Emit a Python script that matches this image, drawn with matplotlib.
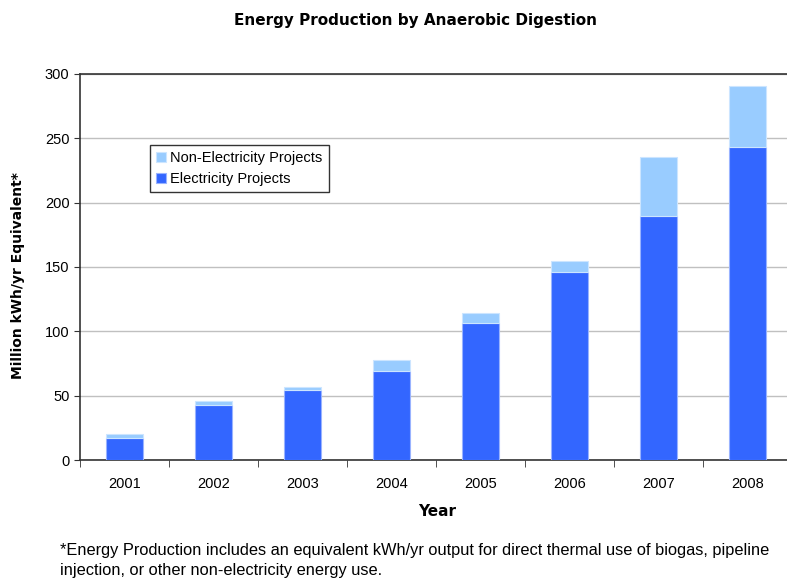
import matplotlib
matplotlib.use('Agg')
import matplotlib.pyplot as plt
import numpy as np

plt.rcParams['font.family'] = ['Liberation Sans', 'DejaVu Sans']

years = ['2001', '2002', '2003', '2004', '2005', '2006', '2007', '2008']
electricity = [17.3, 43, 54.4, 69.4, 106.7, 145.8, 189.3, 243.2]
non_electricity = [2.7, 2.6, 2.6, 8.1, 7.3, 8.6, 45.9, 47.2]

fig = plt.figure(figsize=(7.87, 5.82), dpi=100)
ax = fig.add_axes([80 / 787, 1 - 460 / 582, 712 / 787, 386 / 582])

x = np.arange(len(years))
ax.bar(x, electricity, width=0.42, color='#3366FF', edgecolor='#99B3FF',
       linewidth=0.8, label='Electricity Projects', zorder=3)
ax.bar(x, non_electricity, width=0.42, bottom=electricity, color='#99CCFF',
       edgecolor='#CCE5FF', linewidth=0.8, label='Non-Electricity Projects', zorder=3)

ax.set_xlim(-0.5, len(years) - 0.5)
ax.set_ylim(0, 300)
ax.set_yticks(range(0, 301, 50))
ax.set_xticks(x)
ax.set_xticklabels(years, fontsize=10.5)
ax.set_xticks(np.arange(-0.5, len(years), 1), minor=True)
ax.tick_params(axis='x', which='major', length=0, pad=12)
ax.tick_params(axis='x', which='minor', length=5, direction='out', color='#333333')
ax.tick_params(axis='y', labelsize=10.5, length=4, direction='out', color='#333333')
ax.yaxis.grid(True, color='#C0C0C0', linewidth=1, zorder=0)
for s in ax.spines.values():
    s.set_color('#333333')
    s.set_linewidth(1.2)

handles, labels = ax.get_legend_handles_labels()
leg = ax.legend(handles[::-1], labels[::-1], loc='upper left',
                bbox_to_anchor=(70 / 712, 1 - 71 / 386), fontsize=10.5,
                frameon=True, fancybox=False, handlelength=0.7, handleheight=0.7,
                handletextpad=0.3, borderpad=0.4, labelspacing=0.5,
                borderaxespad=0)
leg.get_frame().set_edgecolor('#000000')
leg.get_frame().set_linewidth(1)

bold = ['DejaVu Sans']
fig.text(416 / 787, 1 - 20 / 582, 'Energy Production by Anaerobic Digestion',
         ha='center', va='center', fontsize=11, fontweight='bold', family=bold)
fig.text(18 / 787, 1 - 276 / 582, 'Million kWh/yr Equivalent*', rotation=90,
         ha='center', va='center', fontsize=10, fontweight='bold', family=bold)
fig.text(437 / 787, 1 - 512 / 582, 'Year', ha='center', va='center',
         fontsize=11, fontweight='bold', family=bold)

note = ('*Energy Production includes an equivalent kWh/yr output for direct thermal use of biogas, pipeline\n'
        'injection, or other non-electricity energy use.')
fig.text(60 / 787, 1 - 543 / 582, note, ha='left', va='top', fontsize=11.8,
         linespacing=1.45)

fig.savefig('out.png', dpi=100)
